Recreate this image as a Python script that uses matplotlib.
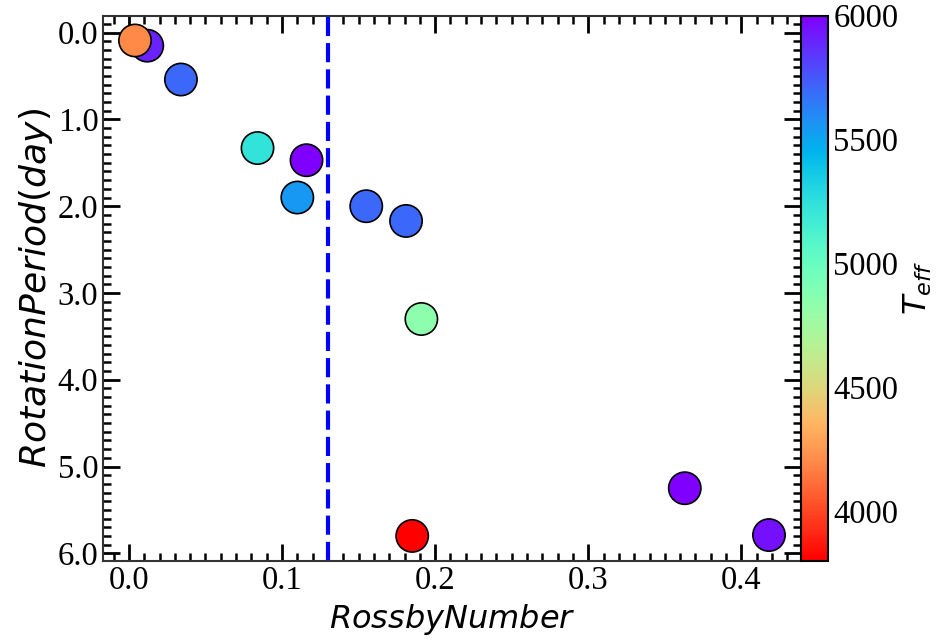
import matplotlib
matplotlib.use('agg')
import matplotlib.pyplot as plt
import matplotlib.ticker as ticker
import numpy as np

plt.rcParams['font.family'] = ['Liberation Serif', 'DejaVu Serif']
plt.rcParams['mathtext.fontset'] = 'dejavusans'

# 数据：罗斯贝数、自转周期、有效温度（橙色点画在紫色点之上）
rossby = [0.012, 0.004, 0.034, 0.084, 0.116, 0.110, 0.155, 0.181, 0.191, 0.185, 0.363, 0.418]
period = [0.15, 0.09, 0.54, 1.33, 1.47, 1.90, 2.00, 2.17, 3.30, 5.80, 5.25, 5.79]
teff = [5900, 4200, 5700, 5230, 6000, 5550, 5700, 5700, 4840, 3800, 6000, 5950]
ro_crit = 0.13

fig = plt.figure(figsize=(9.4, 6.4), dpi=100)
ax = fig.add_axes([103.3 / 940, 79.3 / 640, 697.4 / 940, 545 / 640])
cax = fig.add_axes([800.7 / 940, 79.3 / 640, 27 / 940, 545 / 640])

sc = ax.scatter(rossby, period, c=teff, cmap='rainbow_r', s=540,
                edgecolors='black', linewidths=1.2, zorder=3)
ax.axvline(ro_crit, color='blue', lw=3, dashes=(4.6, 1.7), zorder=2)
ax.invert_yaxis()

ax.xaxis.set_major_locator(ticker.MultipleLocator(0.1))
ax.xaxis.set_minor_locator(ticker.MultipleLocator(0.01))
ax.yaxis.set_major_locator(ticker.MultipleLocator(1.0))
ax.yaxis.set_minor_locator(ticker.MultipleLocator(0.1))
ax.xaxis.set_major_formatter(ticker.FormatStrFormatter('%.1f'))
ax.yaxis.set_major_formatter(ticker.FormatStrFormatter('%.1f'))
ax.tick_params(which='both', direction='in', top=True, right=True, labelsize=23.5)
ax.tick_params(which='major', length=12, width=2)
ax.tick_params(which='minor', length=6, width=1.8)
for sp in ax.spines.values():
    sp.set_linewidth(1.5)
    sp.set_color('#333333')

ax.set_xlabel(r'$Rossby Number$', fontsize=23)
ax.set_ylabel(r'$Rotation Period(day)$', fontsize=26, labelpad=2)

cb = fig.colorbar(sc, cax=cax)
cb.set_ticks([4000, 4500, 5000, 5500, 6000])
cb.ax.tick_params(length=0, labelsize=23.5, pad=4)
cb.outline.set_linewidth(1.5)
cb.set_label(r'$T_{eff}$', fontsize=23, labelpad=2)

plt.savefig('out.png', dpi=100)
plt.close()
